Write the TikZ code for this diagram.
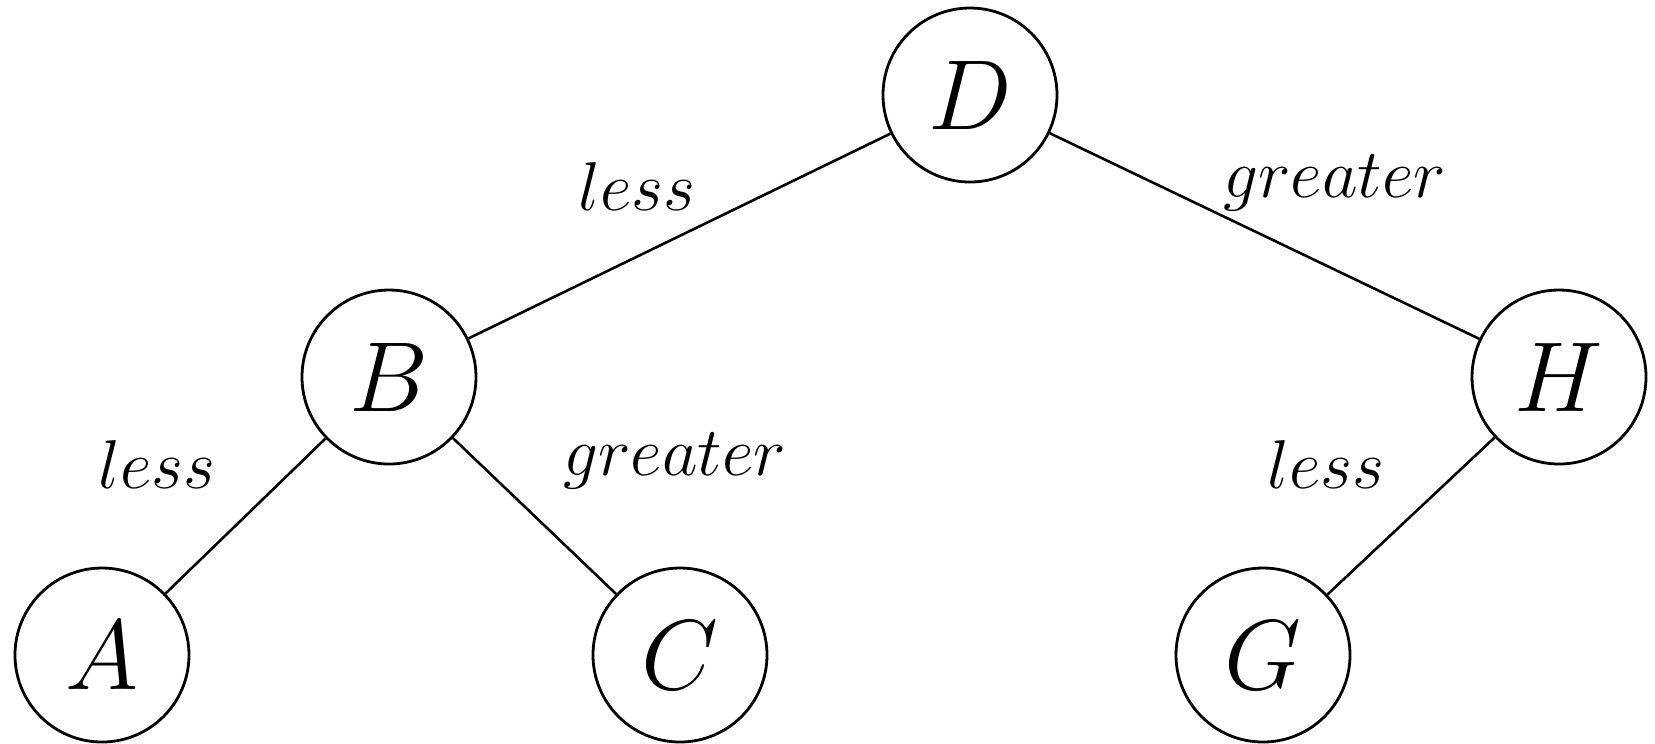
\documentclass[tikz,border=0pt]{standalone}
\usepackage{amsmath}
\usepackage{tikz}
\usetikzlibrary{positioning}

\begin{document}
\begin{tikzpicture}[on grid,
    vertex/.style={draw, circle, line width=0.7pt, minimum size=43.5pt, inner sep=0pt, font=\Huge},
    lbl/.style={anchor=base, inner sep=0pt, font=\fontsize{18}{22}\selectfont},
    edge/.style={line width=0.65pt}]
  \useasboundingbox (-242.5pt,23.75pt) rectangle (171.25pt,-162pt);
  % tree nodes
  \node[vertex] (D) {$D$};
  \node[vertex, below left=70.5pt and 145.25pt of D] (B) {$B$};
  \node[vertex, below right=70.5pt and 147.25pt of D] (H) {$H$};
  \node[vertex, below left=69.5pt and 71.75pt of B] (A) {$A$};
  \node[vertex, below right=69.5pt and 72.75pt of B] (C) {$C$};
  \node[vertex, below left=69.5pt and 74pt of H] (G) {$G$};
  % branches
  \draw[edge] (D) -- node[lbl, xshift=-10.6pt, yshift=6.5pt] (lessDB) {$less$} (B);
  \draw[edge] (D) -- node[lbl, xshift=17.6pt, yshift=9.75pt] (greaterDH) {$greater$} (H);
  \draw[edge] (B) -- node[lbl, xshift=-22.1pt, yshift=7pt] (lessBA) {$less$} (A);
  \draw[edge] (B) -- node[lbl, xshift=35.1pt, yshift=10.25pt] (greaterBC) {$greater$} (C);
  \draw[edge] (H) -- node[lbl, xshift=-21.25pt, yshift=7pt] (lessHG) {$less$} (G);
\end{tikzpicture}
\end{document}
